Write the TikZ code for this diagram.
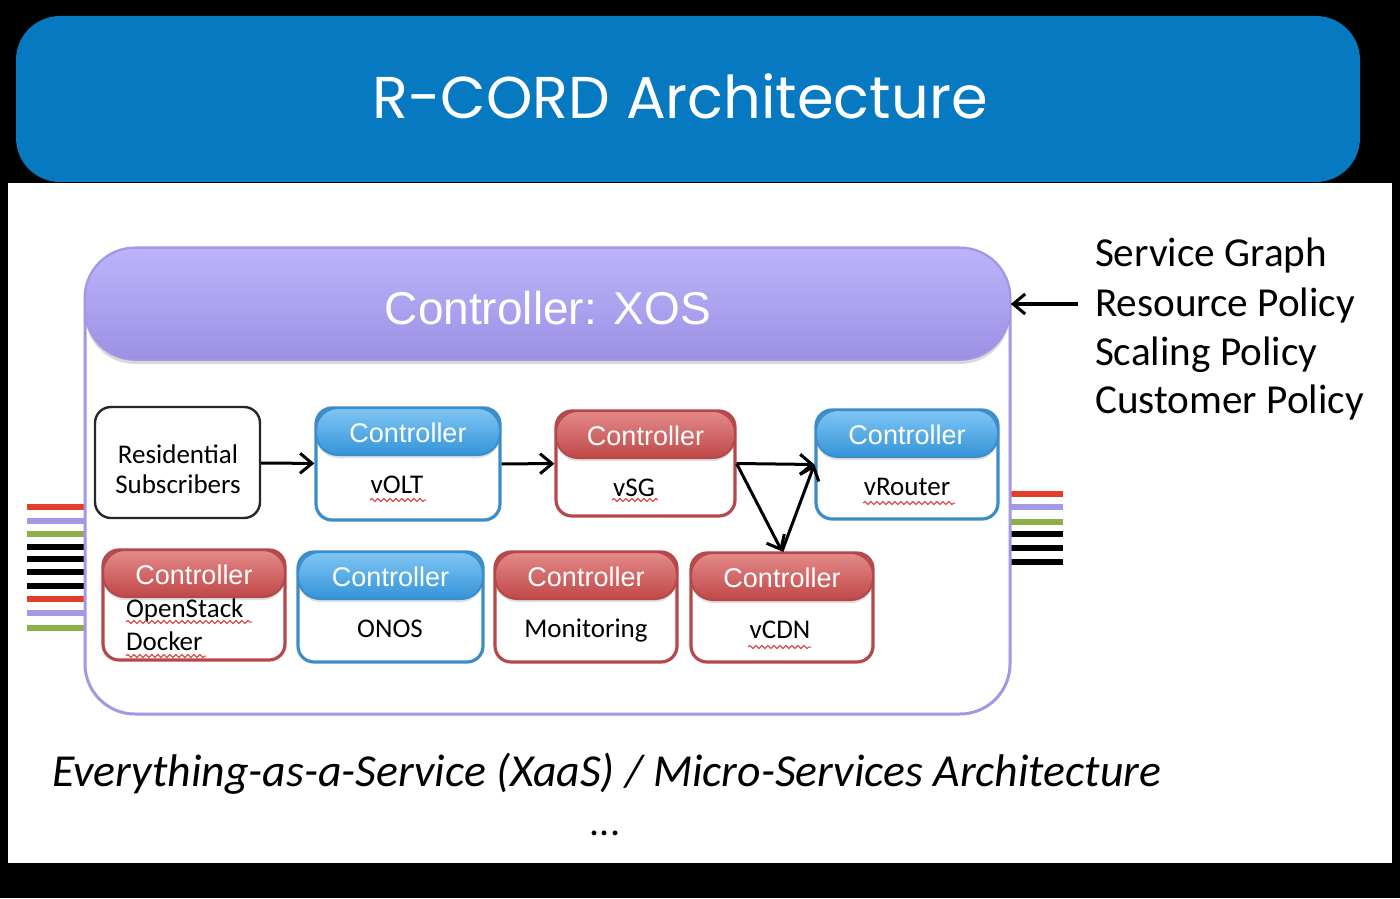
\documentclass[tikz,border=0pt]{standalone}
\usepackage{fontspec}
\setmainfont{Carlito}
\newfontfamily\titlefont{Poppins}
\newfontfamily\arialfont{Liberation Sans}
\usetikzlibrary{arrows.meta,fit,shadows,decorations.pathmorphing}

\definecolor{hdrblue}{RGB}{6,121,192}
\definecolor{xosline}{RGB}{165,150,230}
\definecolor{xostop}{RGB}{188,181,250}
\definecolor{xosbot}{RGB}{157,144,228}
\definecolor{bline}{RGB}{60,140,200}
\definecolor{btop}{RGB}{128,198,245}
\definecolor{bbot}{RGB}{52,148,215}
\definecolor{rline}{RGB}{180,72,74}
\definecolor{rtop}{RGB}{228,138,138}
\definecolor{rbot}{RGB}{192,72,72}
\definecolor{wred}{RGB}{228,62,42}
\definecolor{wpurple}{RGB}{165,152,228}
\definecolor{wgreen}{RGB}{140,176,72}
\definecolor{squigred}{RGB}{222,60,60}

\tikzset{
  flow/.style={line width=1.5pt, -{Straight Barb[length=6pt,width=10pt,line width=1.5pt]}},
  boxb/.style={draw=bline, line width=1.6pt, rounded corners=8pt, inner sep=0pt},
  boxr/.style={draw=rline, line width=1.6pt, rounded corners=8pt, inner sep=0pt},
  pillb/.style={draw=bline, line width=1pt, top color=btop, bottom color=bbot,
    rounded corners=11pt, inner sep=0pt, drop shadow={opacity=.25, shadow xshift=0pt, shadow yshift=-1.5pt}},
  pillr/.style={draw=rline, line width=1pt, top color=rtop, bottom color=rbot,
    rounded corners=11pt, inner sep=0pt, drop shadow={opacity=.25, shadow xshift=0pt, shadow yshift=-1.5pt}},
  ctrltxt/.style={font=\arialfont\fontsize{13.5}{15}\selectfont, text=white, anchor=base},
  bodytxt/.style={font=\fontsize{13.5}{15}\selectfont, anchor=base},
  policy/.style={font=\fontsize{20.6}{24}\selectfont, anchor=base west},
  squig/.style={squigred, line width=.5pt, decorate, decoration={snake, amplitude=.8pt, segment length=3pt}},
  wire/.style={line width=3pt}
}

\begin{document}
\begin{tikzpicture}[x=0.5pt, y=-0.5pt]
\useasboundingbox (0,0) rectangle (1400,898);
\fill[black] (0,0) rectangle (1400,898);

% header
\fill[hdrblue, rounded corners=22pt] (16,16) rectangle (1360,182);
\node[font=\titlefont\fontsize{29.5}{34}\selectfont, text=white, anchor=base] (title) at (680,119) {R-CORD Architecture};
\fill[white] (8,183) rectangle (1392,863);

% wires in and out
\foreach \y/\c in {507/wred, 521/wpurple, 534/wgreen, 547/black, 559/black, 572/black, 586/black, 599/wred, 613/wpurple, 628/wgreen}
  \draw[wire, \c] (27,\y) -- (85,\y);
\foreach \y/\c in {494/wred, 507/wpurple, 522/wgreen, 534/black, 548/black, 562/black}
  \draw[wire, \c] (1010,\y) -- (1063,\y);

% XOS
\draw[xosline, line width=1.5pt, fill=white, rounded corners=25pt] (85,248) rectangle (1010,714);
\node[fit={(85,248) (1010,360)}, inner sep=0pt, rounded corners=25pt, draw=xosline, line width=.8pt,
  top color=xostop, bottom color=xosbot, drop shadow={opacity=.3, shadow xshift=0pt, shadow yshift=-2pt}] (xos) {};
\node[font=\arialfont\fontsize{23}{26}\selectfont, text=white, anchor=base] at (548,324) {Controller: XOS};

% policies
\node[policy] (sg) at (1088,267) {Service Graph};
\node[policy] (rp) at (1088,316) {Resource Policy};
\node[policy] (sp) at (1088,365) {Scaling Policy};
\node[policy] (cp) at (1088,413) {Customer Policy};
\coordinate (pol) at (1078,304);
\draw[flow] (pol) -- (xos.east |- pol);

% subscribers
\node[fit={(95,407) (260,518)}, draw=black!85, line width=1.2pt, rounded corners=8pt, inner sep=0pt] (res) {};
\node[bodytxt] at (178,463) {Residential};
\node[bodytxt] at (178,493) {Subscribers};

% service boxes
\foreach \n/\xa/\ya/\xb/\yb/\k/\tx/\t in {
  volt/316/408/500/520/b/397/vOLT,
  vsg/556/411/735/516/r/634/vSG,
  vrouter/816/410/998/519/b/907/vRouter,
  ostack/103/550/285/660/r/194/{},
  onos/298/552/483/662/b/390/ONOS,
  mon/495/552/677/662/r/586/Monitoring,
  vcdn/691/553/873/662/r/780/vCDN} {
  \node[box\k, fill=white, fit={(\xa,\ya) (\xb,\yb)}] (\n) {};
  \node[pill\k, fit={(\xa,\ya) (\xb,\ya+47)}] (\n-h) {};
  \node[ctrltxt] at (\n-h.center |- 0,\ya+34) {Controller};
  \node[bodytxt] at (\tx,\ya+85) {\t};
}
\node[bodytxt, anchor=base west] at (119,617) {OpenStack};
\node[bodytxt, anchor=base west] at (119,650) {Docker};

% spell marks
\draw[squig] (370,500) -- (426,500);
\draw[squig] (612,500) -- (658,500);
\draw[squig] (863,503) -- (955,503);
\draw[squig] (748,647) -- (811,647);
\draw[squig] (126,622) -- (252,622);
\draw[squig] (126,656) -- (206,656);

% chain
\draw[flow] (res) -- (volt);
\draw[flow] (volt) -- (vsg);
\draw[flow] (vsg.east) -- (vrouter.west);
\draw[flow] (vsg.east) -- (vcdn.north);
\draw[flow] (vcdn.north) -- (vrouter.west);

% footer
\node[font=\itshape\fontsize{22.9}{26}\selectfont, anchor=base west] (xaas) at (45,786) {Everything-as-a-Service (XaaS) / Micro-Services Architecture};
\node[font=\fontsize{20}{24}\selectfont, anchor=base] (dots) at (605,835) {...};
\end{tikzpicture}
\end{document}
